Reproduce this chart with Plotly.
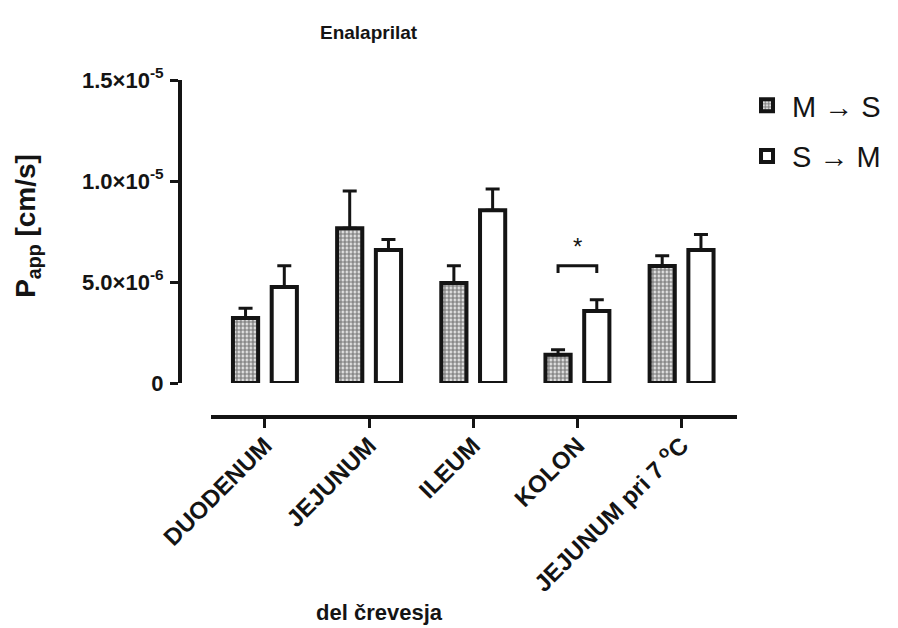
import plotly.graph_objects as go

# ---- data ----
categories = ["DUODENUM", "JEJUNUM", "ILEUM", "KOLON", "JEJUNUM pri 7 <sup>o</sup>C"]
ms_values = [3.22e-6, 7.66e-6, 4.95e-6, 1.40e-6, 5.79e-6]
ms_errors = [0.48e-6, 1.85e-6, 0.86e-6, 0.25e-6, 0.51e-6]
sm_values = [4.75e-6, 6.58e-6, 8.55e-6, 3.57e-6, 6.58e-6]
sm_errors = [1.06e-6, 0.53e-6, 1.05e-6, 0.55e-6, 0.77e-6]
y_tick_vals = [0, 5e-6, 1e-5, 1.5e-5]
y_tick_text = ["0", "5.0×10<sup>-6</sup>", "1.0×10<sup>-5</sup>", "1.5×10<sup>-5</sup>"]
sig_group = 3          # KOLON
sig_bracket_top = 5.8e-6
sig_bracket_leg = 5.45e-6
sig_star_y = 6.75e-6

x_idx = list(range(len(categories)))
FONT = "Liberation Sans, Arial, sans-serif"
INK = "#141414"

fig = go.Figure()
fig.add_trace(go.Bar(
    x=x_idx, y=ms_values, name="M \u2192 S", legendgroup="a",
    marker=dict(color="white", line=dict(color=INK, width=4),
                pattern=dict(shape=".", fgcolor=INK, bgcolor="white", size=4, solidity=0.7)),
    error_y=dict(type="data", array=ms_errors, arrayminus=[0] * len(ms_errors), symmetric=False,
                 color=INK, thickness=3, width=7),
))
fig.add_trace(go.Bar(
    x=x_idx, y=sm_values, name="S \u2192 M", legendgroup="b",
    marker=dict(color="white", line=dict(color=INK, width=4)),
    error_y=dict(type="data", array=sm_errors, arrayminus=[0] * len(sm_errors), symmetric=False,
                 color=INK, thickness=3, width=7),
))

off = 0.186
fig.add_shape(type="path", xref="x", yref="y",
              path=f"M {sig_group - off},{sig_bracket_leg} L {sig_group - off},{sig_bracket_top} "
                   f"L {sig_group + off},{sig_bracket_top} L {sig_group + off},{sig_bracket_leg}",
              line=dict(color=INK, width=3))
fig.add_annotation(x=sig_group, y=sig_star_y, xref="x", yref="y", text="*", showarrow=False,
                   xanchor="center", yanchor="middle",
                   font=dict(family=FONT, size=24, color=INK))

fig.add_annotation(x=0.339, y=1.142, xref="paper", yref="paper", text="<b>Enalaprilat</b>",
                   xanchor="center", yanchor="middle",
                   showarrow=False, font=dict(family=FONT, size=19, color=INK))
fig.add_annotation(x=0.359, y=-0.579, xref="paper", yref="paper", text="<b>del črevesja</b>",
                   xanchor="center", yanchor="middle",
                   showarrow=False, font=dict(family=FONT, size=22, color=INK))
fig.add_annotation(x=-0.273, y=0.567, xref="paper", yref="paper", textangle=-90,
                   xanchor="center", yanchor="middle",
                   text="<b>P<sub>app</sub> [cm/s]</b>",
                   showarrow=False, font=dict(family=FONT, size=28, color=INK))

fig.update_layout(
    width=890, height=620,
    margin=dict(l=172, r=158, t=72, b=211),
    paper_bgcolor="white", plot_bgcolor="white",
    barmode="group", bargap=0.256, bargroupgap=0.35,
    font=dict(family=FONT, color=INK),
    showlegend=True,
    legend=dict(x=1.009, y=1.0, xanchor="left", yanchor="top",
                font=dict(family=FONT, size=29, color=INK),
                traceorder="grouped", tracegroupgap=10, itemwidth=40),
    xaxis=dict(domain=[0.0554, 1], range=[-0.519, 4.532], anchor="free", position=0,
               tickmode="array", tickvals=x_idx, ticktext=categories, tickangle=-45,
               showline=True, linecolor=INK, linewidth=4,
               ticks="outside", ticklen=9, tickwidth=3, tickcolor=INK,
               ticklabelstandoff=-6,
               showgrid=False, zeroline=False,
               tickfont=dict(family=FONT, size=24, color=INK, weight="bold")),
    yaxis=dict(domain=[0.1009, 1], range=[0, 1.5e-5], anchor="free", position=0,
               tickmode="array", tickvals=y_tick_vals, ticktext=y_tick_text,
               showline=True, linecolor=INK, linewidth=4,
               ticks="outside", ticklen=8, tickwidth=3, tickcolor=INK,
               ticklabelstandoff=2,
               showgrid=False, zeroline=False,
               tickfont=dict(family=FONT, size=22, color=INK, weight="bold")),
)

fig.write_html("out.html")
